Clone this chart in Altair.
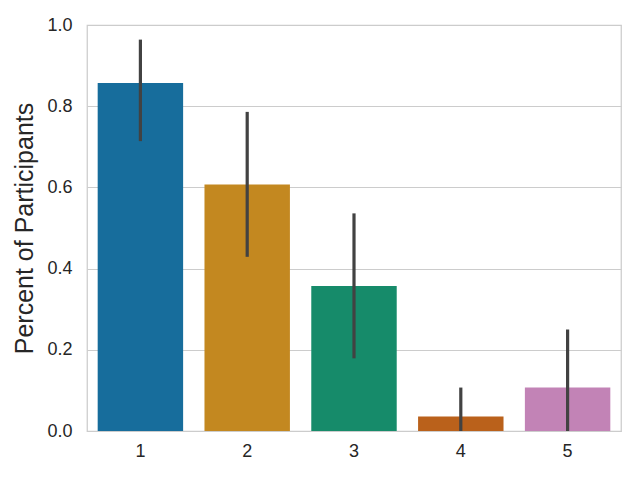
import altair as alt
import pandas as pd

categories = ["1", "2", "3", "4", "5"]
values = [0.857, 0.607, 0.357, 0.036, 0.107]
ci_low = [0.714, 0.429, 0.179, 0.0, 0.0]
ci_high = [0.964, 0.786, 0.536, 0.107, 0.25]
colors = ["#176d9c", "#c38820", "#168b6a", "#ba611b", "#c283b6"]

df = pd.DataFrame({"cat": categories, "val": values, "lo": ci_low, "hi": ci_high})

x = alt.X("cat:N", title=None, sort=categories,
          scale=alt.Scale(paddingInner=0.2, paddingOuter=0.1),
          axis=alt.Axis(labelAngle=0, labelFontSize=18, labelColor="#262626",
                        labelFont="Liberation Sans", ticks=False, domain=False,
                        grid=False, labelPadding=11))

bars = alt.Chart(df).mark_bar(strokeWidth=0).encode(
    x=x,
    y=alt.Y("val:Q", title="Percent of Participants",
            scale=alt.Scale(domain=[0, 1], nice=False),
            axis=alt.Axis(values=[0, 0.2, 0.4, 0.6, 0.8, 1.0], format=".1f",
                          labelFontSize=18, labelColor="#262626", labelFont="Liberation Sans",
                          titleFontSize=25, titleFont="Liberation Sans", titleColor="#262626",
                          titleFontWeight="normal", ticks=False, domain=False,
                          gridColor="#cccccc", gridWidth=1, labelPadding=15, titlePadding=9)),
    color=alt.Color("cat:N", scale=alt.Scale(domain=categories, range=colors), legend=None),
)

err = alt.Chart(df).mark_rule(color="#424242", strokeWidth=3.2).encode(
    x=alt.X("cat:N", sort=categories),
    y="lo:Q",
    y2="hi:Q",
)

chart = (bars + err).properties(
    width=534, height=406,
    autosize=alt.AutoSizeParams(type="none"),
    padding={"left": 79, "top": 17, "right": 11, "bottom": 41},
).configure_view(stroke="#cccccc", strokeWidth=1.25)

chart.save("out.html", embed_options={"renderer": "svg", "actions": False})
